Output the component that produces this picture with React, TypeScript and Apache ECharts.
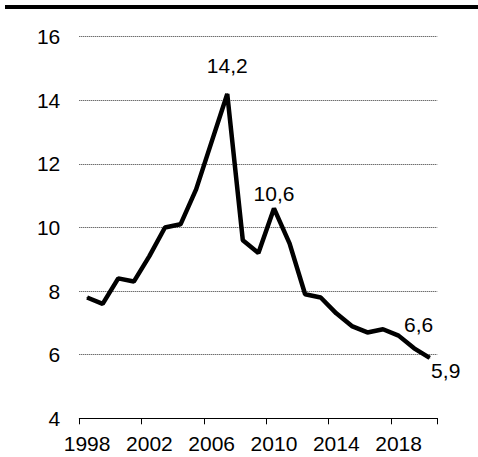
import React, { useEffect, useRef } from "react";
import * as echarts from "echarts";

const years = [
  "1998", "1999", "2000", "2001", "2002", "2003", "2004", "2005", "2006", "2007", "2008", "2009",
  "2010", "2011", "2012", "2013", "2014", "2015", "2016", "2017", "2018", "2019", "2020",
];
const values = [
  7.8, 7.6, 8.4, 8.3, 9.1, 10.0, 10.1, 11.2, 12.7, 14.2, 9.6, 9.2,
  10.6, 9.5, 7.9, 7.8, 7.3, 6.9, 6.7, 6.8, 6.6, 6.2, 5.9,
];
const labelled = ["2007", "2010", "2018", "2020"];
const yTicks = { min: 4, max: 16, interval: 2 };

const FONT = "Arial, 'Liberation Sans', sans-serif";
const FS = 21;

export default function App() {
  const ref = useRef<HTMLDivElement>(null);
  useEffect(() => {
    if (!ref.current) return;
    const chart = echarts.init(ref.current, null, { renderer: "svg" });
    const labelStyles: Record<string, any> = {
      "2007": { position: "top", distance: 17, offset: [0, 0] },
      "2010": { position: "top", distance: 4, offset: [0, 0] },
      "2018": { position: "top", distance: 0, offset: [20, 0] },
      "2020": { position: "bottom", distance: 2, offset: [16, 0] },
    };
    const data = values.map((v, i) => {
      const y = years[i];
      if (labelled.includes(y)) {
        return {
          value: v,
          label: {
            show: true,
            ...labelStyles[y],
            color: "#000",
            fontSize: FS,
            fontFamily: FONT,
            formatter: (p: any) => String(p.value).replace(".", ","),
          },
        };
      }
      return { value: v };
    });
    chart.setOption({
      animation: false,
      backgroundColor: "#fff",
      graphic: [
        {
          type: "rect",
          shape: { x: 5, y: 5, width: 473, height: 4 },
          style: { fill: "#000" },
        },
      ],
      grid: { left: 79.3, right: 40.5, top: 36.7, bottom: 38.7 },
      xAxis: {
        type: "category",
        data: years,
        boundaryGap: true,
        axisLine: { show: true, lineStyle: { color: "#000", width: 1 } },
        axisTick: { show: true, interval: 3, length: 6, lineStyle: { color: "#000" } },
        axisLabel: {
          interval: 3,
          color: "#000",
          fontSize: FS,
          fontFamily: FONT,
          margin: 15,
        },
        splitLine: { show: false },
      },
      yAxis: {
        type: "value",
        min: yTicks.min,
        max: yTicks.max,
        interval: yTicks.interval,
        axisLine: { show: false },
        axisTick: { show: false },
        axisLabel: { color: "#000", fontSize: FS, fontFamily: FONT, margin: 19 },
        splitLine: { show: true, lineStyle: { color: "#333", type: [1, 1], width: 1 } },
      },
      series: [
        {
          type: "line",
          data,
          symbol: "circle",
          symbolSize: 1,
          showSymbol: true,
          itemStyle: { color: "#000" },
          lineStyle: { color: "#000", width: 4.5 },
          label: { show: false },
          emphasis: { disabled: true },
        },
      ],
    });
    return () => chart.dispose();
  }, []);
  return (
    <div
      ref={ref}
      style={{ position: "absolute", left: 0, top: 0, width: 478, height: 457 }}
    />
  );
}
